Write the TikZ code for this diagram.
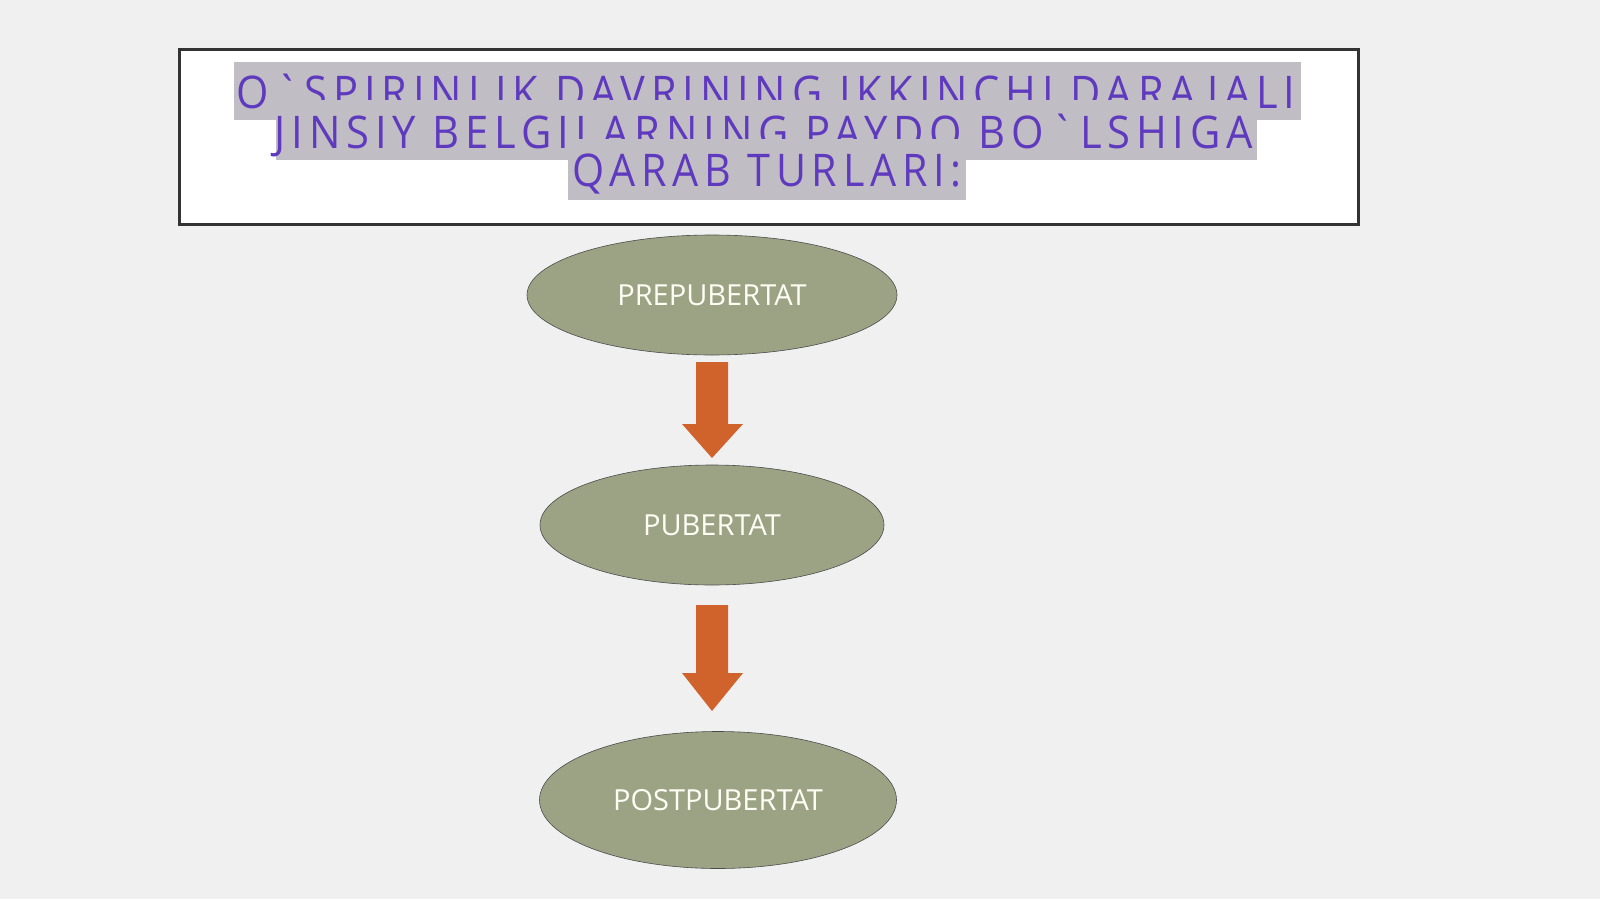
\documentclass[tikz,border=0pt]{standalone}
\usepackage{fontspec}
\setmainfont{Open Sans}
\newfontfamily\titlefont[LetterSpace=14]{Open Sans}
\usetikzlibrary{shapes.geometric}
\definecolor{bg}{RGB}{240,240,240}
\definecolor{hl}{RGB}{192,190,196}
\definecolor{ttl}{RGB}{96,58,190}
\definecolor{olive}{RGB}{155,163,132}
\definecolor{arr}{RGB}{208,98,44}
\newcommand{\ttlline}[2]{\resizebox{#1}{\height}{#2}}
\tikzset{
  hlbox/.style={fill=hl, draw=none},
  ttltext/.style={anchor=base, inner sep=0pt, text=ttl, font=\titlefont\fontsize{45}{45}\selectfont},
  stage/.style={ellipse, fill=olive, draw=black!70, line width=0.6pt, inner sep=0pt, text=white!96!yellow, font=\fontsize{29}{29}\selectfont},
  blockarrow/.style={fill=arr, draw=none}
}
\begin{document}
\begin{tikzpicture}[x=1pt,y=-1pt]
\useasboundingbox (0,0) rectangle (1600,899);
\fill[bg] (0,0) rectangle (1600,899);
% title box
\node[draw=black!80, line width=3pt, fill=white, minimum width=1179pt, minimum height=175pt, inner sep=0pt, anchor=north west] (box) at (178,48) {};
% title lines with highlight (each highlight covers the foot of the line above)
\fill[hlbox] (234,62) rectangle (1301,120);
\node[ttltext] (t1) at (766,108) {\ttlline{1058pt}{O`SPIRINLIK DAVRINING IKKINCHI DARAJALI}};
\fill[hlbox] (276,100) rectangle (1257,160);
\node[ttltext] (t2) at (764,148) {\ttlline{978pt}{JINSIY BELGILARNING PAYDO BO`LSHIGA}};
\fill[hlbox] (568,139) rectangle (966,200);
\node[ttltext] (t3) at (767,186) {\ttlline{390pt}{QARAB TURLARI:}};
% stages
\node[stage, minimum width=370pt, minimum height=120pt] (pre) at (712,295) {PREPUBERTAT};
\node[stage, minimum width=344pt, minimum height=120pt] (pub) at (712,525) {PUBERTAT};
\node[stage, minimum width=357pt, minimum height=137pt] (post) at (718,800) {POSTPUBERTAT};
% block arrows
\fill[blockarrow] (696,362) -- (728,362) -- (728,424) -- (743,424) -- (712,458) -- (682,424) -- (696,424) -- cycle;
\fill[blockarrow] (696,605) -- (728,605) -- (728,673) -- (743,673) -- (712,711) -- (682,673) -- (696,673) -- cycle;
\end{tikzpicture}
\end{document}
